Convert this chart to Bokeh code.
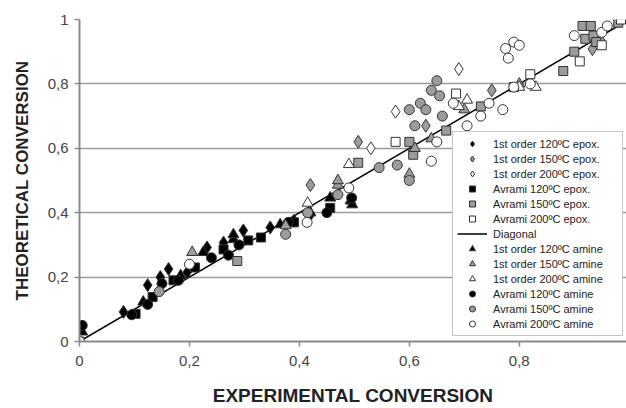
from bokeh.plotting import figure
from bokeh.models import Range1d, FixedTicker, Legend, LegendItem
from bokeh.embed import file_html
from bokeh.resources import INLINE

# ---------------- data ----------------
x_ticks = [0, 0.2, 0.4, 0.6, 0.8]
x_tick_labels = ["0", "0,2", "0,4", "0,6", "0,8"]
y_ticks = [0, 0.2, 0.4, 0.6, 0.8, 1.0]
y_tick_labels = ["0", "0,2", "0,4", "0,6", "0,8", "1"]

diag_x = [0, 1]
diag_y = [0, 1]

fo120e_x = [0.005, 0.08, 0.124, 0.147, 0.162, 0.196, 0.232, 0.262, 0.298, 0.347, 0.39, 0.42]
fo120e_y = [0.046, 0.092, 0.175, 0.20, 0.225, 0.215, 0.292, 0.307, 0.345, 0.354, 0.375, 0.394]

fo150e_x = [0.42, 0.507, 0.63, 0.75, 0.933, 0.95]
fo150e_y = [0.486, 0.62, 0.67, 0.78, 0.908, 0.93]

fo200e_x = [0.575, 0.69, 0.53]
fo200e_y = [0.714, 0.846, 0.60]

av120e_x = [0.102, 0.133, 0.171, 0.21, 0.262, 0.307, 0.33, 0.39, 0.456]
av120e_y = [0.086, 0.138, 0.19, 0.23, 0.286, 0.314, 0.323, 0.37, 0.415]

av150e_x = [0.287, 0.507, 0.60, 0.607, 0.667, 0.73, 0.79, 0.88, 0.90, 0.915, 0.93, 0.92, 0.935, 0.94, 0.98]
av150e_y = [0.25, 0.555, 0.62, 0.58, 0.655, 0.73, 0.79, 0.84, 0.90, 0.98, 0.98, 0.94, 0.95, 0.93, 0.99]

av200e_x = [0.0, 0.575, 0.685, 0.91, 0.95, 0.985, 0.82]
av200e_y = [0.0, 0.62, 0.77, 0.87, 0.92, 1.0, 0.83]

fo120a_x = [0.005, 0.116, 0.184, 0.225, 0.28, 0.28, 0.365, 0.42, 0.456, 0.493, 0.496]
fo120a_y = [0.03, 0.123, 0.205, 0.277, 0.317, 0.332, 0.363, 0.40, 0.446, 0.437, 0.425]

fo150a_x = [0.205, 0.375, 0.47, 0.47, 0.60, 0.61, 0.64, 0.70, 0.80]
fo150a_y = [0.277, 0.36, 0.486, 0.50, 0.52, 0.60, 0.63, 0.72, 0.80]

fo200a_x = [0.415, 0.49, 0.705, 0.69, 0.80, 0.83]
fo200a_y = [0.43, 0.55, 0.75, 0.73, 0.79, 0.79]

av120a_x = [0.005, 0.095, 0.124, 0.15, 0.18, 0.24, 0.271, 0.29, 0.38, 0.45, 0.495]
av120a_y = [0.05, 0.083, 0.115, 0.18, 0.19, 0.26, 0.268, 0.30, 0.37, 0.40, 0.446]

av150a_x = [0.145, 0.375, 0.415, 0.47, 0.578, 0.60, 0.61, 0.60, 0.62, 0.64, 0.65, 0.655, 0.63, 0.66, 0.545]
av150a_y = [0.155, 0.333, 0.40, 0.456, 0.548, 0.50, 0.67, 0.72, 0.74, 0.78, 0.81, 0.763, 0.72, 0.70, 0.54]

av200a_x = [0.0, 0.20, 0.414, 0.49, 0.64, 0.65, 0.705, 0.745, 0.79, 0.82, 0.77, 0.775, 0.79, 0.78, 0.80, 0.90, 0.95, 0.96, 0.68, 0.73]
av200a_y = [0.0, 0.24, 0.37, 0.477, 0.56, 0.62, 0.67, 0.74, 0.79, 0.80, 0.72, 0.91, 0.93, 0.88, 0.92, 0.95, 0.96, 0.98, 0.74, 0.70]

# ---------------- figure ----------------
p = figure(width=626, height=408, x_range=Range1d(0, 0.995), y_range=Range1d(0, 1),
           output_backend="svg", toolbar_location=None,
           min_border_left=79, min_border_right=0, min_border_top=19, min_border_bottom=63)
p.outline_line_color = None
p.background_fill_color = "white"
p.border_fill_color = "white"

p.xgrid.grid_line_color = None
p.ygrid.grid_line_color = "#9a9a9a"
p.ygrid.grid_line_width = 1.5
p.ygrid.ticker = FixedTicker(ticks=y_ticks)

FONT = "Liberation Sans"
for ax in (p.xaxis[0], p.yaxis[0]):
    ax.axis_line_color = "#8a8a8a"
    ax.axis_line_width = 2
    ax.major_tick_line_color = "#8a8a8a"
    ax.major_tick_line_width = 1.5
    ax.major_tick_out = 5
    ax.major_tick_in = 0
    ax.minor_tick_line_color = None
    ax.major_label_text_font = FONT
    ax.major_label_text_font_size = "15px"
    ax.major_label_text_color = "#444444"
    ax.axis_label_text_font = FONT
    ax.axis_label_text_font_style = "bold"
    ax.axis_label_text_color = "#222222"

p.xaxis.axis_label_text_font_size = "19px"
p.yaxis.axis_label_text_font_size = "17px"
p.xaxis.ticker = FixedTicker(ticks=x_ticks)
p.yaxis.ticker = FixedTicker(ticks=y_ticks)
p.xaxis.major_label_overrides = dict(zip(x_ticks, x_tick_labels))
p.yaxis.major_label_overrides = dict(zip(y_ticks, y_tick_labels))
p.xaxis.axis_label = "EXPERIMENTAL CONVERSION"
p.yaxis.axis_label = "THEORETICAL CONVERSION"
p.xaxis.major_label_standoff = 9
p.xaxis.axis_label_standoff = 16
p.yaxis.major_label_standoff = 6
p.yaxis.axis_label_standoff = 13

GREY = "#9c9c9c"
EDGE = "#333333"

diag = p.line(diag_x, diag_y, line_color="black", line_width=1.5)

def sc(xs, ys, marker, fill, size):
    return p.scatter(xs, ys, marker=marker, size=size, fill_color=fill,
                     line_color=EDGE, line_width=1)

r_fo120e = sc(fo120e_x, fo120e_y, "diamond", "black", 13)
r_av120e = sc(av120e_x, av120e_y, "square", "black", 9)
r_fo120a = sc(fo120a_x, fo120a_y, "triangle", "black", 11)
r_av120a = sc(av120a_x, av120a_y, "circle", "black", 10)
r_fo150e = sc(fo150e_x, fo150e_y, "diamond", GREY, 13)
r_av150e = sc(av150e_x, av150e_y, "square", GREY, 9)
r_fo150a = sc(fo150a_x, fo150a_y, "triangle", GREY, 11)
r_av150a = sc(av150a_x, av150a_y, "circle", GREY, 10)
r_fo200e = sc(fo200e_x, fo200e_y, "diamond", "white", 13)
r_av200e = sc(av200e_x, av200e_y, "square", "white", 9)
r_fo200a = sc(fo200a_x, fo200a_y, "triangle", "white", 11)
r_av200a = sc(av200a_x, av200a_y, "circle", "white", 10)

items = [
    LegendItem(label="1st order 120ºC epox.", renderers=[r_fo120e]),
    LegendItem(label="1st order 150ºC epox.", renderers=[r_fo150e]),
    LegendItem(label="1st order 200ºC epox.", renderers=[r_fo200e]),
    LegendItem(label="Avrami 120ºC epox.", renderers=[r_av120e]),
    LegendItem(label="Avrami 150ºC epox.", renderers=[r_av150e]),
    LegendItem(label="Avrami 200ºC epox.", renderers=[r_av200e]),
    LegendItem(label="Diagonal", renderers=[diag]),
    LegendItem(label="1st order 120ºC amine", renderers=[r_fo120a]),
    LegendItem(label="1st order 150ºC amine", renderers=[r_fo150a]),
    LegendItem(label="1st order 200ºC amine", renderers=[r_fo200a]),
    LegendItem(label="Avrami 120ºC amine", renderers=[r_av120a]),
    LegendItem(label="Avrami 150ºC amine", renderers=[r_av150a]),
    LegendItem(label="Avrami 200ºC amine", renderers=[r_av200a]),
]
legend = Legend(items=items, location=(373, 5))
legend.label_text_font = FONT
legend.label_text_font_size = "11px"
legend.label_text_color = "#222222"
legend.padding = 4
legend.spacing = 0
legend.margin = 0
legend.label_height = 15
legend.glyph_height = 15
legend.glyph_width = 30
legend.label_standoff = 6
legend.label_width = 125
legend.border_line_color = "#8a8a8a"
legend.border_line_width = 1.5
legend.background_fill_color = "white"
legend.background_fill_alpha = 1
p.add_layout(legend, "center")

open("out.html", "w").write(file_html(p, INLINE))
